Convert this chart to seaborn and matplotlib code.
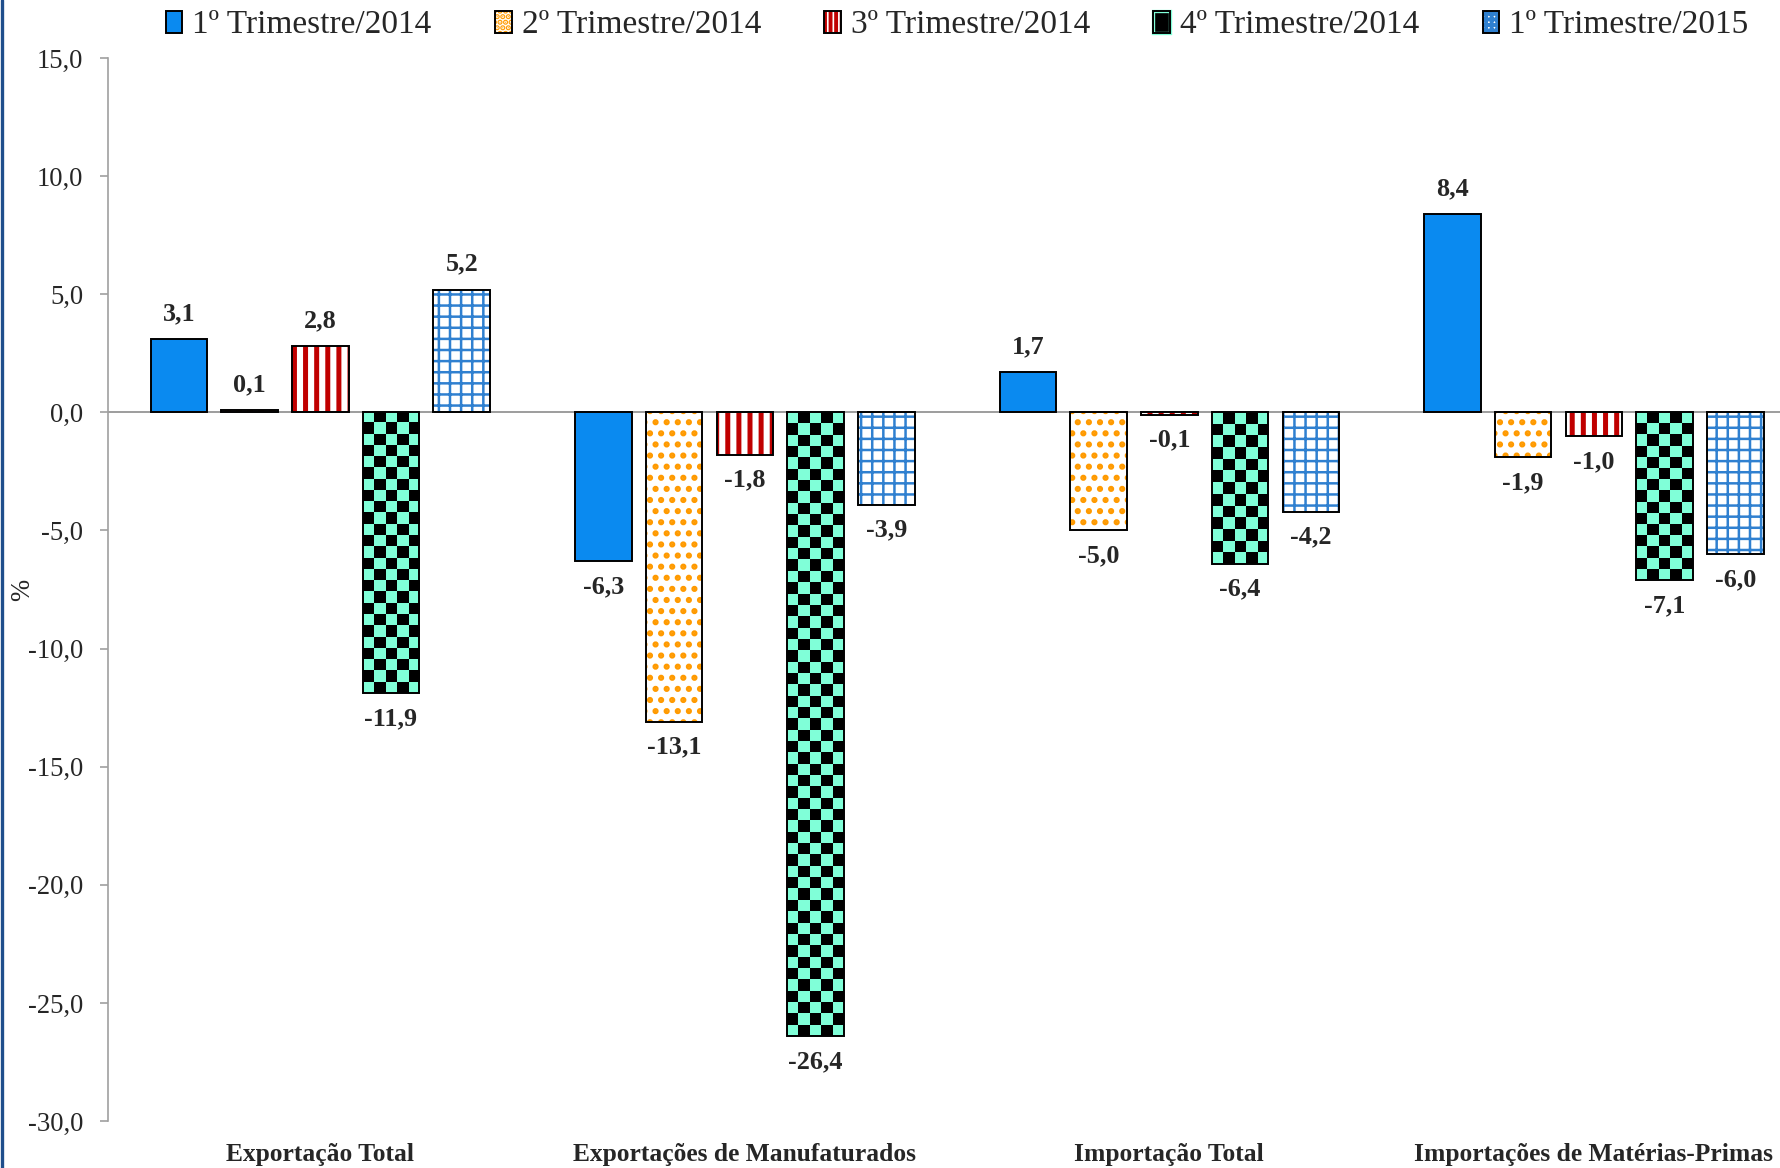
import numpy as np
import pandas as pd
import matplotlib.pyplot as plt
import seaborn as sns
from matplotlib.patches import Rectangle, Patch
from matplotlib.colors import ListedColormap
from matplotlib.lines import Line2D
from matplotlib.legend_handler import HandlerTuple

# Datos
categorias = ["Exportação Total", "Exportações de Manufaturados",
              "Importação Total", "Importações de Matérias-Primas"]
periodos = ["1º Trimestre/2014", "2º Trimestre/2014", "3º Trimestre/2014",
            "4º Trimestre/2014", "1º Trimestre/2015"]
tri1_2014 = [3.1, -6.3, 1.7, 8.4]
tri2_2014 = [0.1, -13.1, -5.0, -1.9]
tri3_2014 = [2.8, -1.8, -0.1, -1.0]
tri4_2014 = [-11.9, -26.4, -6.4, -7.1]
tri1_2015 = [5.2, -3.9, -4.2, -6.0]
yticks = [15, 10, 5, 0, -5, -10, -15, -20, -25, -30]

series = [tri1_2014, tri2_2014, tri3_2014, tri4_2014, tri1_2015]
df = pd.DataFrame({
    "categoria": np.tile(categorias, len(periodos)),
    "periodo": np.repeat(periodos, len(categorias)),
    "valor": np.concatenate(series),
})

# Estilo de cada serie: (cara, color del rayado, rayado, grosor del rayado)
estilos = [
    ("#0A8AF0", None, None, 0),
    ("white", "#FF9A00", "...", 1.4),
    ("white", "#C00000", "|||", 1.8),
    ("checker", None, None, 0),
    ("white", "#2F80D0", "+++", 0.9),
]

sns.set_theme(style="white")
plt.rcParams["font.family"] = ["Liberation Serif", "DejaVu Serif"]
plt.rcParams["hatch.linewidth"] = 1.4

fig = plt.figure(figsize=(8.9, 5.84), dpi=200)
ax = fig.add_axes([0.0607, 0.0402, 0.954, 0.9101])

sns.barplot(data=df, x="categoria", y="valor", hue="periodo", order=categorias,
            hue_order=periodos, width=0.833, gap=0.2, palette=["#cccccc"] * 5,
            legend=False, ax=ax, err_kws={"linewidth": 0})

ax.set_ylim(-30, 15)
ax.set_xlim(-0.5, 3.5)
ax.set_yticks(yticks)
ax.set_yticklabels([f"{v:.1f}".replace(".", ",") for v in yticks], fontsize=9.6)

verde = "#80FFD8"
checker_cmap = ListedColormap([verde, "black"])
cell_px = 11.4


def rayado(p, face, hcol, hatch, hlw):
    p.set_facecolor(face)
    p.set_edgecolor(hcol)
    p.set_hatch(hatch)
    if hasattr(p, "set_hatch_linewidth"):
        p.set_hatch_linewidth(hlw)


for cont, (face, hcol, hatch, hlw) in zip(ax.containers, estilos):
    for bar in cont:
        x0, y0, w, h = bar.get_x(), bar.get_y(), bar.get_width(), bar.get_height()
        outline = Rectangle((x0, y0), w, h, facecolor="none", edgecolor="black",
                            linewidth=0.7, zorder=4)
        ax.add_patch(outline)
        bar.set_linewidth(0)
        if face == "checker":
            bar.set_facecolor(verde)
            p0 = ax.transData.transform((x0, y0))
            p1 = ax.transData.transform((x0 + w, y0 + h))
            nx = max(1, int(round(abs(p1[0] - p0[0]) / cell_px)))
            ny = max(1, int(round(abs(p1[1] - p0[1]) / cell_px)))
            board = np.indices((ny, nx)).sum(axis=0) % 2
            im = ax.imshow(board, cmap=checker_cmap, extent=(x0, x0 + w, y0 + h, y0),
                           aspect="auto", interpolation="nearest", zorder=3)
            im.set_clip_path(Rectangle((x0, y0), w, h, transform=ax.transData))
        elif hatch is None:
            bar.set_facecolor(face)
        else:
            rayado(bar, face, hcol, hatch, hlw)
    ax.bar_label(cont, labels=[f"{v:.1f}".replace(".", ",") for v in cont.datavalues],
                 padding=5, fontsize=9.4, fontweight="bold")

ax.set_ylim(-30, 15)
ax.set_xlim(-0.5, 3.5)

ax.axhline(0, color="#8C8C8C", linewidth=0.6, zorder=1)

# Ejes
sns.despine(ax=ax, top=True, right=True, bottom=True)
ax.spines["left"].set_color("#A0A0A0")
ax.spines["left"].set_linewidth(0.6)
ax.tick_params(axis="y", length=3, width=0.6, color="#A0A0A0", pad=6, left=True)
ax.tick_params(axis="x", length=0, pad=8)
for lbl in ax.get_xticklabels():
    lbl.set_fontweight("bold")
    lbl.set_fontsize(9.2)
ax.set_xlabel("")
ax.set_ylabel("%", fontsize=9.6)
ax.yaxis.set_label_coords(-0.043, 0.5)
ax.grid(False)

# Leyenda
handles = []
for face, hcol, hatch, hlw in estilos:
    if face == "checker":
        base = Patch(facecolor="black", edgecolor=verde, linewidth=1.2)
    elif hatch is None:
        base = Patch(facecolor=face, linewidth=0)
    else:
        base = Patch(linewidth=0)
        rayado(base, face, hcol, hatch * 2, hlw * 0.8)
    borde = Patch(facecolor="none", edgecolor="black", linewidth=0.7)
    handles.append((base, borde))

ax.legend(handles, periodos, loc="center", bbox_to_anchor=(0.5, 1.031), ncol=5,
          frameon=False, fontsize=12, handlelength=0.5, handleheight=0.65,
          handletextpad=0.3, columnspacing=1.9,
          handler_map={tuple: HandlerTuple(ndivide=1, pad=0)})

# Borde azul a la izquierda
fig.add_artist(Line2D([0.001, 0.001], [0, 1], transform=fig.transFigure,
                      color="#1F4E8C", linewidth=1.2))

fig.savefig("out.png", dpi=200)
